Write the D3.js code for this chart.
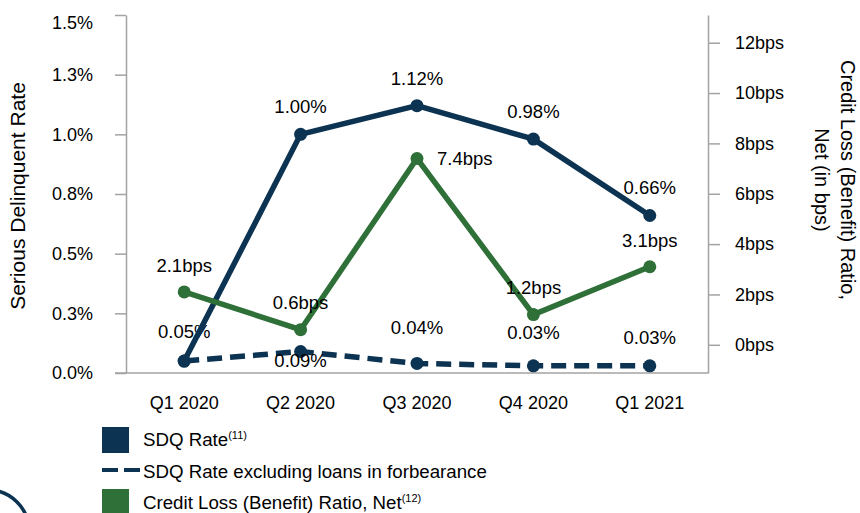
<!DOCTYPE html>
<html>
<head>
<meta charset="utf-8">
<script src="https://cdn.jsdelivr.net/npm/d3@7"></script>
<style>
	body { margin: 0; background: #fff; }
	text { font-family: "Liberation Sans", Arial, sans-serif; fill: #000; }
	.axis path, .axis line { stroke: #a3a3a3; stroke-width: 1.5px; }
</style>
</head>
<body>
<script>
const quarters = ['Q1 2020', 'Q2 2020', 'Q3 2020', 'Q4 2020', 'Q1 2021'];
const sdqRate = [0.05, 1.00, 1.12, 0.98, 0.66];
const sdqExForbearance = [0.05, 0.09, 0.04, 0.03, 0.03];
const creditLossBps = [2.1, 0.6, 7.4, 1.2, 3.1];
const leftTicks = [0, 0.25, 0.5, 0.75, 1.0, 1.25, 1.5];
const rightTicks = [0, 2, 4, 6, 8, 10, 12];

class DualAxisChart {
	constructor() {
		this._width = 860;
		this._height = 513;
		this._plot = {left: 126, right: 708, top: 15, bottom: 373};
		this._navy = '#0c3352';
		this._green = '#2f6f38';
		this._scaleX = d3.scaleBand().domain(quarters).range([this._plot.left, this._plot.right]);
		this._scaleY = d3.scaleLinear().domain([0, 1.5]).range([this._plot.bottom, this._plot.top]);
		// right axis: 0bps sits above the baseline
		this._scaleY2 = d3.scaleLinear().domain([-1.12, 13.1]).range([this._plot.bottom, this._plot.top]);
		this._svg = null;
	}
	render() {
		this._svg = d3.select('body')
			.append('svg')
			.attr('width', this._width)
			.attr('height', this._height);
		this.renderAxes();
		this.renderSeries(sdqExForbearance, this._scaleY, this._navy, '15,8', d => d.toFixed(2) + '%', [-23, 15, -29, -27, -22], []);
		this.renderSeries(sdqRate, this._scaleY, this._navy, null, d => d.toFixed(2) + '%', [0, -21, -21, -21, -21], [0]);
		this.renderSeries(creditLossBps, this._scaleY2, this._green, null, d => d.toFixed(1) + 'bps', [-20, -21, 6, -21, -20], []);
		this.renderLegend();
		this.renderLogo();
	}
	renderAxes() {
		let p = this._plot;
		let yAxis = d3.axisLeft(this._scaleY)
			.tickValues(leftTicks)
			.tickSize(11)
			.tickSizeOuter(0)
			.tickPadding(22)
			.tickFormat(d => d.toFixed(1) + '%');
		let left = this._svg.append('g')
			.attr('class', 'axis y-left')
			.attr('transform', `translate(${p.left},0)`)
			.call(yAxis);
		left.selectAll('text').style('font-size', '18px').attr('fill', '#000');
		// top label sits a little under its tick
		left.selectAll('.tick text').filter(d => d == 1.5).attr('dy', '0.75em');

		let yAxis2 = d3.axisRight(this._scaleY2)
			.tickValues(rightTicks)
			.tickSize(12)
			.tickSizeOuter(0)
			.tickPadding(15)
			.tickFormat(d => d + 'bps');
		let right = this._svg.append('g')
			.attr('class', 'axis y-right')
			.attr('transform', `translate(${p.right},0)`)
			.call(yAxis2);
		right.selectAll('text').style('font-size', '18px').attr('fill', '#000');

		let xAxis = d3.axisBottom(this._scaleX).tickSize(0).tickPadding(23);
		let bottom = this._svg.append('g')
			.attr('class', 'axis x')
			.attr('transform', `translate(0,${p.bottom})`)
			.call(xAxis);
		bottom.select('.domain').remove();
		bottom.selectAll('text').style('font-size', '18px').attr('fill', '#000');
		this._svg.append('line')
			.attr('x1', p.left - 11).attr('x2', p.right)
			.attr('y1', p.bottom).attr('y2', p.bottom)
			.attr('stroke', '#a3a3a3').attr('stroke-width', 1.5);

		this._svg.append('text')
			.attr('transform', 'translate(25,196) rotate(-90)')
			.attr('text-anchor', 'middle')
			.style('font-size', '21px')
			.text('Serious Delinquent Rate');

		let title2 = [['Credit Loss (Benefit) Ratio,', 841], ['Net (in bps)', 815]];
		this._svg.selectAll('text.r-title')
			.data(title2)
			.enter()
			.append('text')
			.attr('class', 'r-title')
			.attr('transform', d => `translate(${d[1]},180) rotate(90)`)
			.attr('text-anchor', 'middle')
			.style('font-size', '20px')
			.text(d => d[0]);
	}
	renderSeries(values, scaleY, color, dash, fmt, labelDy, skipLabels) {
		let cx = i => this._scaleX(quarters[i]) + this._scaleX.bandwidth() / 2;
		let line = d3.line().x((d, i) => cx(i)).y(d => scaleY(d));
		let g = this._svg.append('g').attr('class', 'series');

		g.append('path')
			.attr('d', line(values))
			.attr('fill', 'none')
			.attr('stroke', color)
			.attr('stroke-width', 5.5)
			.attr('stroke-dasharray', dash);

		g.selectAll('circle')
			.data(values)
			.enter()
			.append('circle')
			.attr('cx', (d, i) => cx(i))
			.attr('cy', d => scaleY(d))
			.attr('r', 6.5)
			.attr('fill', color);

		// right-hand label when the offset is small and positive
		let isRight = i => labelDy[i] > 0 && labelDy[i] < 10;
		let labels = values.map((v, i) => ({v: v, i: i})).filter(d => skipLabels.indexOf(d.i) < 0);
		g.selectAll('text')
			.data(labels)
			.enter()
			.append('text')
			.attr('x', d => cx(d.i) + (isRight(d.i) ? 20 : 0))
			.attr('y', d => scaleY(d.v) + labelDy[d.i])
			.attr('text-anchor', d => isRight(d.i) ? 'start' : 'middle')
			.style('font-size', '18.5px')
			.text(d => fmt(d.v));
	}
	renderLegend() {
		let lg = this._svg.append('g').attr('class', 'legend');
		lg.append('rect').attr('x', 102).attr('y', 427).attr('width', 27).attr('height', 26).attr('fill', this._navy);
		lg.append('line')
			.attr('x1', 102).attr('x2', 141)
			.attr('y1', 470).attr('y2', 470)
			.attr('stroke', this._navy).attr('stroke-width', 4)
			.attr('stroke-dasharray', '16,6');
		lg.append('rect').attr('x', 102).attr('y', 489).attr('width', 27).attr('height', 26).attr('fill', this._green);

		let items = [['SDQ Rate', '(11)', 446], ['SDQ Rate excluding loans in forbearance', '', 478], ['Credit Loss (Benefit) Ratio, Net', '(12)', 509]];
		items.forEach(d => {
			let t = lg.append('text').attr('x', 143).attr('y', d[2]).style('font-size', '18.7px').text(d[0]);
			if(d[1]) {
				t.append('tspan').attr('dy', -7).style('font-size', '11px').text(d[1]);
			}
		});
	}
	renderLogo() {
		this._svg.append('circle')
			.attr('cx', -12)
			.attr('cy', 531)
			.attr('r', 41)
			.attr('fill', 'none')
			.attr('stroke', this._navy)
			.attr('stroke-width', 3.5);
	}
}

new DualAxisChart().render();
</script>
</body>
</html>
